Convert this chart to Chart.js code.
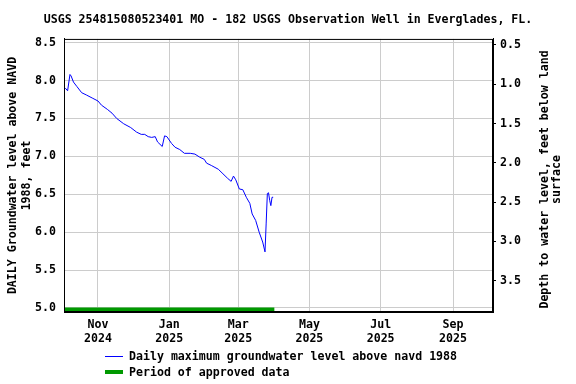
<!DOCTYPE html>
<html>
<head>
<meta charset="utf-8">
<script src="https://cdn.jsdelivr.net/npm/chart.js@4"></script>
<style>
  body { margin: 0; background: #fff; }
  #wrap { position: relative; width: 576px; height: 384px; }
  #legend { position: absolute; left: 105px; top: 348px; font: bold 11.6px "DejaVu Sans Mono", monospace; color: #000; }
  .item { display: flex; align-items: center; height: 16px; }
  .swatch { width: 18px; margin-right: 6px; }
</style>
</head>
<body>
<div id="wrap">
  <canvas id="chart" width="576" height="384"></canvas>
  <div id="legend">
    <div class="item"><span class="swatch" style="border-top:1px solid #0000ff"></span>Daily maximum groundwater level above navd 1988</div>
    <div class="item"><span class="swatch" style="border-top:4px solid #009900"></span>Period of approved data</div>
  </div>
</div>
<script>
// groundwater level, feet above NAVD 1988
const levelDates = [
  '2024-10-04', '2024-10-06', '2024-10-08', '2024-10-09', '2024-10-11', '2024-10-14',
  '2024-10-18', '2024-10-22', '2024-10-27', '2024-11-01', '2024-11-04', '2024-11-09',
  '2024-11-13', '2024-11-17', '2024-11-23', '2024-11-29', '2024-12-04', '2024-12-08',
  '2024-12-11', '2024-12-14', '2024-12-17', '2024-12-20', '2024-12-22', '2024-12-26',
  '2024-12-28', '2024-12-30', '2025-01-03', '2025-01-06', '2025-01-10', '2025-01-14',
  '2025-01-19', '2025-01-23', '2025-01-27', '2025-01-31', '2025-02-02', '2025-02-06',
  '2025-02-12', '2025-02-16', '2025-02-20', '2025-02-23', '2025-02-25', '2025-02-27',
  '2025-03-02', '2025-03-05', '2025-03-08', '2025-03-11', '2025-03-13', '2025-03-16',
  '2025-03-19', '2025-03-22', '2025-03-24', '2025-03-25', '2025-03-26', '2025-03-27',
  '2025-03-28', '2025-03-29', '2025-03-30', '2025-03-31'
];
const levelValues = [
  7.90, 7.865, 8.08, 8.06, 7.98, 7.92,
  7.84, 7.81, 7.77, 7.73, 7.675, 7.62,
  7.57, 7.50, 7.43, 7.38, 7.32, 7.29,
  7.29, 7.26, 7.25, 7.26, 7.19, 7.13,
  7.27, 7.26, 7.17, 7.12, 7.09, 7.04,
  7.04, 7.03, 6.99, 6.96, 6.91, 6.88,
  6.83, 6.77, 6.71, 6.67, 6.74, 6.69,
  6.57, 6.56, 6.46, 6.38, 6.24, 6.155,
  6.00, 5.87, 5.74, 6.12, 6.51, 6.52,
  6.42, 6.35, 6.46, 6.46
];

// approved period bar
const approvedDates = ['2024-10-03', '2025-04-01'];
const approvedValues = [4.98, 4.98];

// axes
const xTickDates = ['2024-11-01', '2025-01-01', '2025-03-01', '2025-05-01', '2025-07-01', '2025-09-01'];
const xTickLabels = [['Nov', '2024'], ['Jan', '2025'], ['Mar', '2025'], ['May', '2025'], ['Jul', '2025'], ['Sep', '2025']];
const leftTicks = [5.0, 5.5, 6.0, 6.5, 7.0, 7.5, 8.0, 8.5];
const rightTicks = [0.5, 1.0, 1.5, 2.0, 2.5, 3.0, 3.5];
const rightTitle = ['Depth to water level, feet below land', 'surface'];

// days since 2024-10-01
const day = s => {
  const [y, m, d] = s.split('-').map(Number);
  return (Date.UTC(y, m - 1, d) - Date.UTC(2024, 9, 1)) / 86400000;
};

const font = { family: 'DejaVu Sans Mono', size: 11.6, weight: 'bold' };
const xTickDays = xTickDates.map(day);

// box round the plot + right-hand title read bottom-to-top
const frame = {
  id: 'frame',
  afterDraw(chart) {
    const { ctx, chartArea: a } = chart;
    ctx.save();
    ctx.strokeStyle = '#000';
    ctx.lineWidth = 1;
    ctx.strokeRect(a.left + 0.5, a.top + 0.5, a.right - a.left - 1, a.bottom - a.top - 1);
    ctx.translate(545, (a.top + a.bottom) / 2 + 4);
    ctx.rotate(-Math.PI / 2);
    ctx.fillStyle = '#000';
    ctx.font = 'bold 11.6px "DejaVu Sans Mono"';
    ctx.textAlign = 'center';
    ctx.textBaseline = 'middle';
    rightTitle.forEach((t, i) => ctx.fillText(t, 0, i * 12));
    ctx.restore();
  }
};

new Chart(document.getElementById('chart'), {
  type: 'line',
  data: {
    datasets: [{
      label: 'Daily maximum groundwater level above navd 1988',
      data: levelDates.map((d, i) => ({ x: day(d), y: levelValues[i] })),
      borderColor: '#0000ff',
      borderWidth: 1,
      pointRadius: 0,
      tension: 0,
      yAxisID: 'y'
    }, {
      label: 'Period of approved data',
      data: approvedDates.map((d, i) => ({ x: day(d), y: approvedValues[i] })),
      borderColor: '#009900',
      borderWidth: 4,
      pointRadius: 0,
      yAxisID: 'y'
    }]
  },
  options: {
    responsive: false,
    animation: false,
    layout: { padding: { bottom: 38 } },
    plugins: {
      legend: { display: false },
      tooltip: { enabled: false },
      title: {
        display: true,
        text: 'USGS 254815080523401 MO - 182 USGS Observation Well in Everglades, FL.',
        color: '#000',
        font: font,
        padding: { top: 13, bottom: 12 }
      }
    },
    scales: {
      x: {
        type: 'linear',
        min: 1.9,
        max: 369.2,
        afterBuildTicks: s => { s.ticks = xTickDays.map(v => ({ value: v })); },
        afterFit: s => { s.height = 34; },
        ticks: {
          color: '#000',
          font: font,
          padding: 6,
          maxRotation: 0,
          autoSkip: false,
          callback: (v) => xTickLabels[xTickDays.indexOf(v)]
        },
        grid: { color: '#cccccc', drawTicks: false },
        border: { color: '#000' }
      },
      y: {
        position: 'left',
        min: 4.947,
        max: 8.549,
        afterBuildTicks: s => { s.ticks = leftTicks.map(v => ({ value: v })); },
        afterFit: s => { s.width = 64; },
        ticks: { color: '#000', font: font, padding: 8, callback: v => v.toFixed(1) },
        grid: { color: '#cccccc', drawTicks: false },
        border: { color: '#000' },
        title: {
          display: true,
          text: ['DAILY Groundwater level above NAVD', '1988, feet'],
          color: '#000',
          font: font,
          padding: { top: 6, bottom: 0 }
        }
      },
      y2: {
        position: 'right',
        reverse: true,
        min: 0.424,
        max: 3.898,
        afterBuildTicks: s => { s.ticks = rightTicks.map(v => ({ value: v })); },
        afterFit: s => { s.width = 83; },
        ticks: { color: '#000', font: font, padding: 4, callback: v => v.toFixed(1) },
        grid: { drawOnChartArea: false, color: '#000', tickLength: 3 },
        border: { color: '#000' }
      }
    }
  },
  plugins: [frame]
});
</script>
</body>
</html>
